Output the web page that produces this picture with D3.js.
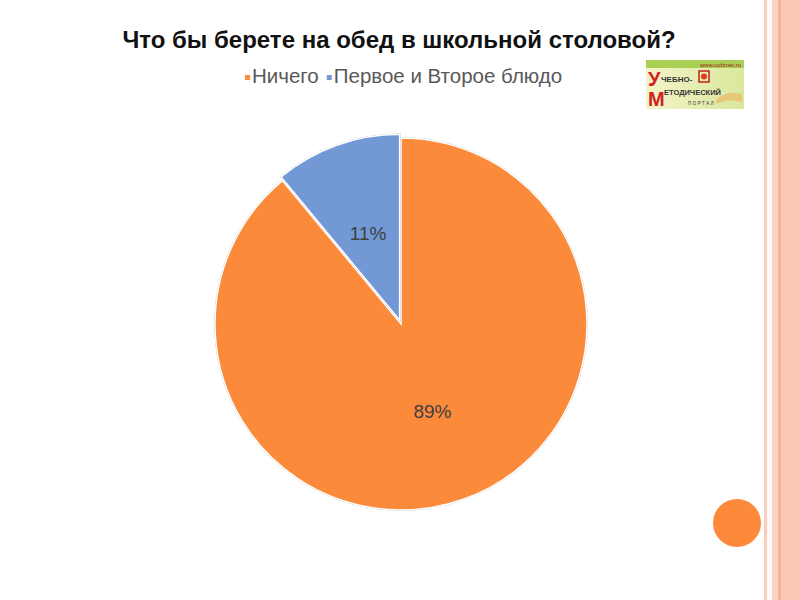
<!DOCTYPE html>
<html>
<head>
<meta charset="utf-8">
<script src="https://cdn.jsdelivr.net/npm/d3@7"></script>
<style>
  html, body { margin: 0; padding: 0; background: #ffffff; }
  svg { display: block; }
</style>
</head>
<body>
<svg id="chart" width="800" height="600"></svg>
<script>
// ---- data ----
const title = "Что бы берете на обед в школьной столовой?";
const categories = ["Ничего", "Первое и Второе блюдо"];
const values = [89, 11];
const valueLabels = ["89%", "11%"];
const colors = ["#fb8a3b", "#7299d6"];

const svg = d3.select("#chart");
const W = 800, H = 600;

svg.append("rect").attr("width", W).attr("height", H).attr("fill", "#ffffff");

// ---- slide decoration: right border stripes ----
const stripes = [
  {x: 764, w: 3, c: "#f9cdbd"},
  {x: 767, w: 5, c: "#fffaf8"},
  {x: 772, w: 6, c: "#fbd3c4"},
  {x: 778, w: 3, c: "#f4b294"},
  {x: 781, w: 19, c: "#fdc7b5"}
];
svg.selectAll("rect.stripe").data(stripes).enter().append("rect")
  .attr("class", "stripe")
  .attr("x", d => d.x).attr("y", 0).attr("width", d => d.w).attr("height", H)
  .attr("fill", d => d.c);

// orange dot bottom-right
svg.append("circle").attr("cx", 737).attr("cy", 523).attr("r", 24).attr("fill", "#fd8a3a");

// ---- title ----
svg.append("text")
  .attr("x", 399).attr("y", 47.5)
  .attr("text-anchor", "middle")
  .attr("font-family", "Liberation Sans, Arial, sans-serif")
  .attr("font-weight", "bold")
  .attr("font-size", 24)
  .attr("fill", "#111")
  .text(title);

// ---- legend ----
const legend = svg.append("g").attr("font-family", "Liberation Sans, Arial, sans-serif")
  .attr("font-size", 20.5).attr("fill", "#595959");
let lx = 245;
categories.forEach((c, i) => {
  legend.append("rect").attr("x", lx).attr("y", 75).attr("width", 5).attr("height", 5).attr("fill", colors[i]);
  const t = legend.append("text").attr("x", lx + 7).attr("y", 82.5).text(c);
  lx += 7 + t.node().getComputedTextLength() + 8;
});

// ---- pie ----
const cx = 401, cy = 324, R = 186;
const defs = svg.append("defs");
const f = defs.append("filter").attr("id", "sh").attr("x", "-10%").attr("y", "-10%").attr("width", "120%").attr("height", "120%");
f.append("feDropShadow").attr("dx", 0).attr("dy", 0).attr("stdDeviation", 0.7)
  .attr("flood-color", "#4a2a10").attr("flood-opacity", 0.8);

const pie = d3.pie().sort(null).value(d => d);
const arcs = pie(values);
const arc = d3.arc().innerRadius(0).outerRadius(R);
const labelArc = d3.arc().innerRadius(0).outerRadius(R);
const explode = [0, 4];

const g = svg.append("g").attr("transform", `translate(${cx},${cy})`);
const slices = g.selectAll("g.slice").data(arcs).enter().append("g")
  .attr("class", "slice")
  .attr("transform", (d, i) => {
    const a = (d.startAngle + d.endAngle) / 2;
    return `translate(${Math.sin(a) * explode[i]},${-Math.cos(a) * explode[i]})`;
  });
slices.append("path")
  .attr("d", arc)
  .attr("fill", (d, i) => colors[i])
  .attr("stroke", "#ffffff").attr("stroke-width", 1.5)
  .attr("filter", "url(#sh)");
slices.append("text")
  .attr("transform", d => `translate(${labelArc.centroid(d)})`)
  .attr("text-anchor", "middle").attr("dy", "0.36em")
  .attr("font-family", "Liberation Sans, Arial, sans-serif")
  .attr("font-size", 19).attr("fill", "#404040")
  .text((d, i) => valueLabels[i]);

// ---- logo (portal badge) ----
const logo = svg.append("g").attr("transform", "translate(646,60)");
const lg = defs.append("linearGradient").attr("id", "lg").attr("x1", 0).attr("y1", 0).attr("x2", 1).attr("y2", 0);
lg.append("stop").attr("offset", "0%").attr("stop-color", "#f4f3c8");
lg.append("stop").attr("offset", "100%").attr("stop-color", "#d9e79c");
logo.append("rect").attr("width", 98).attr("height", 49).attr("fill", "url(#lg)");
logo.append("rect").attr("width", 98).attr("height", 8).attr("fill", "#a9cf55");
logo.append("text").attr("x", 95).attr("y", 7).attr("text-anchor", "end")
  .attr("font-family", "Liberation Sans, Arial, sans-serif").attr("font-size", 6).attr("fill", "#a0201c").text("www.uchmet.ru");
logo.append("text").attr("x", 2).attr("y", 26).attr("font-family", "Liberation Sans, Arial, sans-serif")
  .attr("font-weight", "bold").attr("font-size", 20).attr("fill", "#d0201e").text("У");
logo.append("text").attr("x", 15).attr("y", 22).attr("font-family", "Liberation Sans, Arial, sans-serif")
  .attr("font-weight", "bold").attr("font-size", 8).attr("fill", "#333").text("ЧЕБНО-");
logo.append("rect").attr("x", 53).attr("y", 11).attr("width", 10).attr("height", 11).attr("fill", "none").attr("stroke", "#c0201e").attr("stroke-width", 1.5);
logo.append("circle").attr("cx", 58).attr("cy", 16.5).attr("r", 3).attr("fill", "#d94020");
logo.append("path").attr("d", "M70,40 Q80,30 96,34 L96,42 Q82,38 70,44 Z").attr("fill", "#e8c77a");
logo.append("text").attr("x", 2).attr("y", 46).attr("font-family", "Liberation Sans, Arial, sans-serif")
  .attr("font-weight", "bold").attr("font-size", 20).attr("fill", "#d0201e").text("М");
logo.append("text").attr("x", 18).attr("y", 35).attr("font-family", "Liberation Sans, Arial, sans-serif")
  .attr("font-weight", "bold").attr("font-size", 7.5).attr("fill", "#333").text("ЕТОДИЧЕСКИЙ");
logo.append("text").attr("x", 42).attr("y", 45).attr("font-family", "Liberation Sans, Arial, sans-serif")
  .attr("font-size", 4.5).attr("letter-spacing", 1.5).attr("fill", "#333").text("ПОРТАЛ");
</script>
</body>
</html>
